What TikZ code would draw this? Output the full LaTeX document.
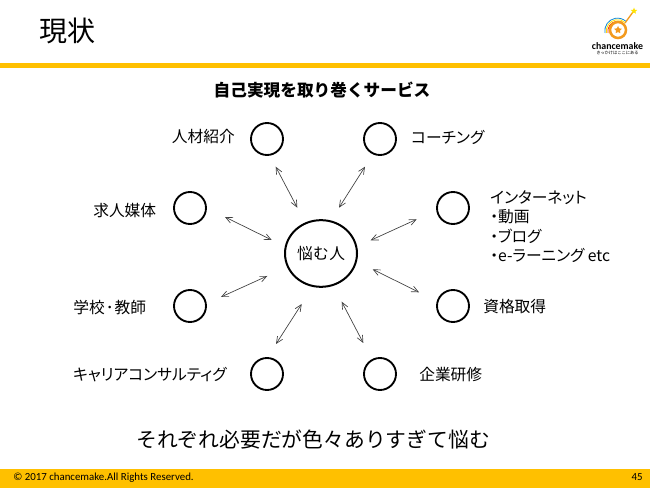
\documentclass[tikz,border=0pt]{standalone}
\usepackage{fontspec}
\setmainfont{Noto Sans CJK JP}
\newfontfamily\carl{Carlito}
\newfontfamily\kana[RawFeature=+palt]{Noto Sans CJK JP}
\usetikzlibrary{arrows.meta,shapes.geometric}
\definecolor{barY}{HTML}{FFC000}
\definecolor{logoO}{HTML}{F39A1E}
\tikzset{
 x=0.75pt,y=-0.75pt,
 hub/.style={draw=black,line width=1.5pt,ellipse,minimum width=54pt,minimum height=50pt,inner sep=0pt},
 sat/.style={draw=black,line width=1.4pt,circle,minimum size=24pt,inner sep=0pt},
 lab/.style={font=\fontsize{11.8pt}{14pt}\selectfont,inner sep=0pt,anchor=west},
 link/.style={draw=black!75,line width=0.5pt,{Straight Barb[length=5pt,width=4.5pt]}-{Straight Barb[length=5pt,width=4.5pt]}},
}
\begin{document}
\begin{tikzpicture}
\useasboundingbox (0,0) rectangle (650,488);
\fill[white] (0,0) rectangle (650,488);
\fill[barY] (0,63) rectangle (650,68);
\fill[barY] (0,469) rectangle (650,488);
\node[anchor=west,inner sep=0pt,font=\fontsize{21pt}{24pt}\selectfont] (title) at (39,30.5) {現状};
\node[inner sep=0pt,font=\fontsize{12.5pt}{15pt}\bfseries\selectfont] (head) at (322,90.5) {自己実現を取り巻くサービス};
% logo
\draw[logoO,line width=1pt] (625,23) -- (633,12);
\draw[cyan!70!blue,line width=0.6pt] (605,33) arc[start angle=190,end angle=50,radius=9.5pt];
\draw[yellow!80!orange,line width=0.6pt] (606.5,33) arc[start angle=190,end angle=50,radius=8.5pt];
\draw[red!70!orange,line width=0.6pt] (608,33) arc[start angle=190,end angle=60,radius=7.5pt];
\node[draw=logoO,line width=1.9pt,circle,minimum size=12pt,inner sep=0pt] (logoring) at (618,30) {};
\node[star,star points=5,star point ratio=2,fill=logoO,minimum size=6pt,inner sep=0pt] (logostar) at (618,30) {};
\node[star,star points=5,star point ratio=2.2,fill=yellow!85!orange,minimum size=5pt,inner sep=0pt] (logotip) at (634,11) {};
\node[inner sep=0pt,font=\carl\fontsize{7.4pt}{8pt}\bfseries\selectfont] (logotext) at (617.5,46.5) {chancemake};
\node[inner sep=0pt,font=\fontsize{3.2pt}{4pt}\selectfont] (logosub) at (617.5,53) {きっかけはここにある};
% hub and satellites
\node[hub,font=\fontsize{11.8pt}{14pt}\selectfont] (hub) at (321,253.5) {悩\kern0.3pt む\kern0.3pt 人};
\node[sat] (s1) at (267,139) {};
\node[sat] (s2) at (380,139) {};
\node[sat] (s3) at (190,208) {};
\node[sat] (s4) at (453,208) {};
\node[sat] (s5) at (190,306) {};
\node[sat] (s6) at (453,306) {};
\node[sat] (s7) at (267,374) {};
\node[sat] (s8) at (380,374) {};
% labels
\node[lab,anchor=east] (l1) at (235,137) {人材紹介};
\node[lab,font=\kana\fontsize{11.8pt}{14pt}\selectfont] (l2) at (411,137) {コーチング};
\node[lab] (l3) at (93,211) {求人媒体};
\node[lab,align=left,anchor=north west,font=\kana\fontsize{11.8pt}{14.7pt}\selectfont] (l4) at (490,190) {インターネット\\・動画\\・ブログ\\・e-ラーニング etc};
\node[lab] (l5) at (73,308) {学校\kern0.8pt ･\kern0.8pt 教師};
\node[lab] (l6) at (483,307) {資格取得};
\node[lab,font=\kana\fontsize{11.8pt}{14pt}\selectfont] (l7) at (73,375) {キャリアコンサルティグ};
\node[lab] (l8) at (419,375) {企業研修};
\node[inner sep=0pt,font=\fontsize{15.6pt}{18pt}\selectfont] (bottom) at (313,439.5) {それぞれ必要だが色々ありすぎて悩む};
% connector ends
\coordinate (a1) at (275.7,166.7); \coordinate (b1) at (297.3,207.7);
\coordinate (a2) at (365,166.7);   \coordinate (b2) at (339,207.7);
\coordinate (a3) at (416.7,219.3); \coordinate (b3) at (370.7,240.3);
\coordinate (a4) at (419,292.3);   \coordinate (b4) at (372.7,269.3);
\coordinate (a5) at (363.3,343);   \coordinate (b5) at (341.7,301.7);
\coordinate (a6) at (276,344);     \coordinate (b6) at (301.7,304);
\coordinate (a7) at (221,297);     \coordinate (b7) at (267.3,276);
\coordinate (a8) at (225,217);     \coordinate (b8) at (271.7,240);
\foreach \i in {1,...,8} \draw[link] (a\i) -- (b\i);
% footer
\node[anchor=west,inner sep=0pt,font=\carl\fontsize{8.15pt}{9pt}\selectfont] (copy) at (13,478) {© 2017 chancemake.All Rights Reserved.};
\node[anchor=east,inner sep=0pt,font=\carl\fontsize{8.15pt}{9pt}\selectfont] (page) at (643,477.5) {45};
\end{tikzpicture}
\end{document}
